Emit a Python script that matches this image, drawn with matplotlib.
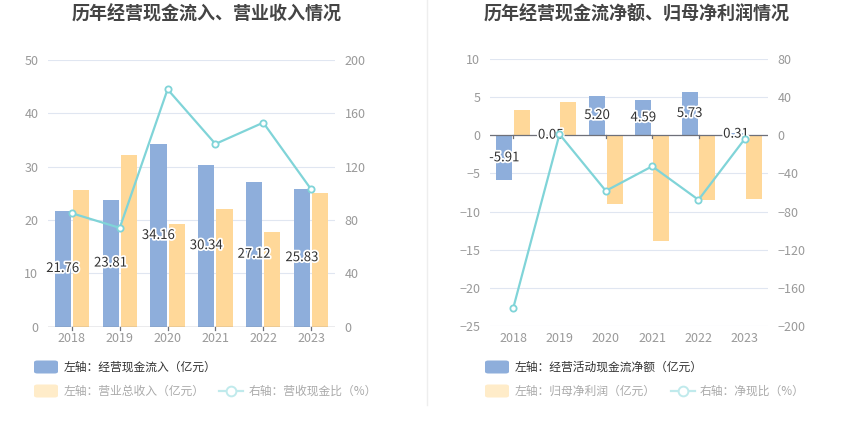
import matplotlib
matplotlib.use('Agg')
import matplotlib.pyplot as plt
import matplotlib.patheffects as pe
from matplotlib.patches import FancyBboxPatch
from matplotlib.lines import Line2D

plt.rcParams['font.family'] = ['Noto Sans CJK SC', 'DejaVu Sans']

years = ['2018', '2019', '2020', '2021', '2022', '2023']

# left chart
inflow = [21.76, 23.81, 34.16, 30.34, 27.12, 25.83]
revenue = [25.6, 32.2, 19.2, 22.1, 17.75, 25.1]
inflow_ratio = [85, 74, 178, 137, 153, 103]

# right chart
net_cash = [-5.91, 0.05, 5.20, 4.59, 5.73, 0.31]
net_profit = [3.27, 4.37, -8.95, -13.9, -8.47, -8.3]
net_ratio = [-181.5, 1.1, -58.3, -32.5, -67.7, -3.7]

BLUE = '#8eaedb'
YELLOW = '#ffd899'
CYAN = '#80d4d8'
GRID = '#e0e6f1'
TICK = '#999999'

W, H = 850, 437
fig = plt.figure(figsize=(W / 100, H / 100), dpi=100)


def px_axes(x0, y0, x1, y1):
    return fig.add_axes([x0 / W, 1 - y1 / H, (x1 - x0) / W, (y1 - y0) / H])


def draw(ax, a, b, ratio, ylim, yticks, rlim, rticks):
    x = range(len(years))
    bw = 0.34
    ax.bar([i - 0.19 for i in x], a, width=bw, color=BLUE, zorder=2)
    ax.bar([i + 0.19 for i in x], b, width=bw, color=YELLOW, zorder=2)
    for i, v in enumerate(a):
        ax.text(i - 0.19, v / 2, f'{v:.2f}', ha='center', va='center', fontsize=9.5,
                color='#333333', zorder=5,
                path_effects=[pe.withStroke(linewidth=2.5, foreground='white')])
    ax.set_xlim(-0.5, len(years) - 0.5)
    ax.set_ylim(*ylim)
    ax.set_yticks(yticks)
    ax.grid(axis='y', color=GRID, linewidth=0.8, zorder=0)
    for s in ['top', 'right', 'left', 'bottom']:
        ax.spines[s].set_visible(False)
    ax.axhline(0, color='#6e7079', linewidth=0.9, zorder=3)
    ax.tick_params(axis='y', length=0, colors=TICK, labelsize=9, pad=7)
    ax.tick_params(axis='x', length=0, colors=TICK, labelsize=9, pad=4)
    ax.set_xticks(list(x))
    ax.set_xticklabels(years)
    for i in x:
        ax.plot([i, i], [0, -(ylim[1] - ylim[0]) * 0.012], color='#6e7079', lw=0.9,
                zorder=3, clip_on=False)

    ax2 = ax.twinx()
    ax2.plot(list(x), ratio, color=CYAN, lw=1.6, marker='o', markersize=4.5,
             markerfacecolor='white', markeredgecolor=CYAN, markeredgewidth=1.3, zorder=4)
    ax2.set_ylim(*rlim)
    ax2.set_yticks(rticks)
    ax2.tick_params(axis='y', length=0, colors=TICK, labelsize=9, pad=7)
    for s in ['top', 'right', 'left', 'bottom']:
        ax2.spines[s].set_visible(False)
    return ax2


ax_l = px_axes(48, 60, 335, 326.5)
draw(ax_l, inflow, revenue, inflow_ratio, (0, 50), [0, 10, 20, 30, 40, 50],
     (0, 200), [0, 40, 80, 120, 160, 200])

ax_r = px_axes(490, 59, 768, 326)
draw(ax_r, net_cash, net_profit, net_ratio, (-25, 10), [-25, -20, -15, -10, -5, 0, 5, 10],
     (-200, 80), [-200, -160, -120, -80, -40, 0, 40, 80])

# titles
fig.text(207 / W, 1 - 14 / H, '历年经营现金流入、营业收入情况', ha='center', va='center',
         fontsize=13, fontweight='bold', color='#444444')
fig.text(637 / W, 1 - 14 / H, '历年经营现金流净额、归母净利润情况', ha='center', va='center',
         fontsize=13, fontweight='bold', color='#444444')

# divider
fig.add_artist(Line2D([427 / W, 427 / W], [1 - 405 / H, 1], color='#eeeeee', lw=1))


def patch(x, y, color):
    fig.add_artist(FancyBboxPatch((x / W, 1 - (y + 6.5) / H), 24 / W, 13 / H,
                                  boxstyle='round,pad=0,rounding_size=0.004',
                                  facecolor=color, edgecolor='none', transform=fig.transFigure))


def line_icon(x, y):
    fig.add_artist(Line2D([x / W, (x + 24) / W], [1 - y / H, 1 - y / H], color='#c0eaec', lw=1.6))
    fig.add_artist(Line2D([(x + 12) / W], [1 - y / H], marker='o', markersize=7,
                          markerfacecolor='white', markeredgecolor='#c0eaec',
                          markeredgewidth=1.4))


def label(x, y, s, color):
    fig.text(x / W, 1 - y / H, s, ha='left', va='center', fontsize=8.5, color=color)


# left legend
patch(34, 367, BLUE)
label(64, 367, '左轴：经营现金流入（亿元）', '#333333')
patch(34, 391, '#ffecc9')
label(64, 391, '左轴：营业总收入（亿元）', '#aaaaaa')
line_icon(219, 391)
label(249, 391, '右轴：营收现金比（%）', '#aaaaaa')

# right legend
patch(485, 367, BLUE)
label(515, 367, '左轴：经营活动现金流净额（亿元）', '#333333')
patch(485, 391, '#ffecc9')
label(515, 391, '左轴：归母净利润（亿元）', '#aaaaaa')
line_icon(671, 391)
label(700, 391, '右轴：净现比（%）', '#aaaaaa')

fig.savefig('out.png', dpi=100)
